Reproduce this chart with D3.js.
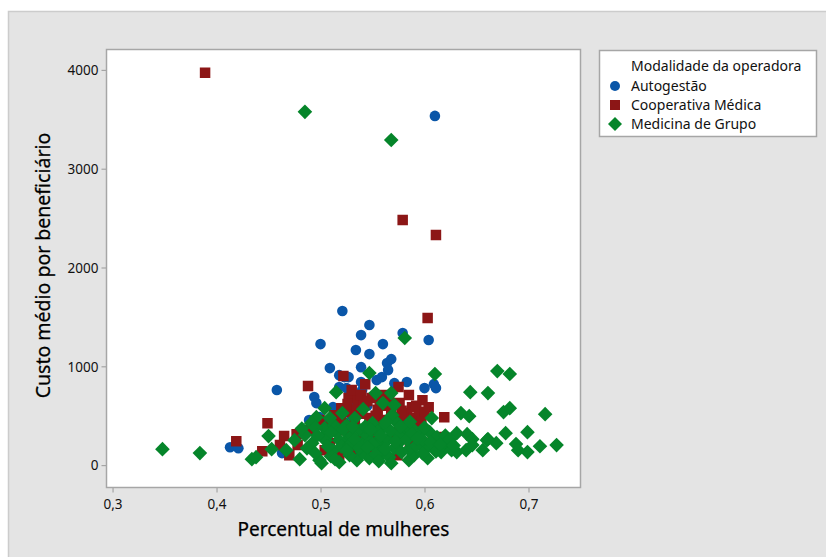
<!DOCTYPE html>
<html>
<head>
<meta charset="utf-8">
<script src="https://cdn.jsdelivr.net/npm/d3@7"></script>
<style>
  html, body { margin: 0; padding: 0; background: #ffffff; }
  svg { display: block; font-family: "Noto Sans", "Open Sans", sans-serif; }
</style>
</head>
<body>
<svg id="chart" width="826" height="557"></svg>
<script>
// Percentual de mulheres (x) vs custo médio por beneficiário (y), by modality
const seriesNames = ["Autogestão", "Cooperativa Médica", "Medicina de Grupo"];
const seriesColors = ["#0a56a8", "#8c1616", "#05852a"];

const autogestao = [
  [0.610, 3534], [0.521, 1560], [0.547, 1418], [0.539, 1316], [0.500, 1225],
  [0.579, 1337], [0.604, 1266], [0.560, 1225], [0.534, 1165], [0.547, 1124],
  [0.509, 982], [0.539, 992], [0.564, 1033], [0.568, 1073], [0.565, 962],
  [0.518, 911], [0.523, 891], [0.527, 891], [0.518, 790], [0.525, 780],
  [0.539, 841], [0.540, 760], [0.554, 861], [0.559, 891], [0.571, 830],
  [0.583, 841], [0.600, 780], [0.609, 820], [0.611, 780], [0.458, 760],
  [0.494, 689], [0.496, 628], [0.489, 456], [0.512, 587], [0.499, 486],
  [0.413, 182], [0.421, 172], [0.463, 122], [0.518, 557], [0.533, 658],
  [0.545, 600], [0.505, 420], [0.530, 470]
];

const cooperativa = [
  [0.389, 3970], [0.579, 2481], [0.611, 2329], [0.603, 1489], [0.522, 901],
  [0.543, 820], [0.488, 800], [0.575, 790], [0.527, 679], [0.536, 658],
  [0.598, 658], [0.604, 587], [0.619, 486], [0.449, 425], [0.419, 243],
  [0.465, 294], [0.477, 314], [0.444, 142], [0.520, 577], [0.557, 628],
  [0.533, 122], [0.509, 223], [0.560, 709], [0.576, 628], [0.588, 587],
  [0.583, 527], [0.595, 527], [0.574, 486], [0.608, 253], [0.614, 284],
  [0.574, 101], [0.499, 456], [0.513, 506], [0.528, 537], [0.542, 608],
  [0.549, 679], [0.566, 658], [0.533, 405], [0.547, 476], [0.562, 456],
  [0.523, 354], [0.552, 304], [0.489, 354], [0.478, 203], [0.538, 253],
  [0.571, 334], [0.590, 405], [0.504, 152], [0.518, 101], [0.547, 152],
  [0.586, 203], [0.470, 101], [0.530, 760], [0.539, 709], [0.585, 709],
  [0.461, 203], [0.555, 560], [0.568, 560], [0.580, 470], [0.592, 600],
  [0.540, 520], [0.515, 420], [0.557, 380], [0.600, 540], [0.526, 620],
  [0.545, 650], [0.553, 500], [0.565, 600], [0.578, 550], [0.590, 480],
  [0.535, 560], [0.520, 470], [0.506, 390], [0.552, 420], [0.597, 440]
];

const medicinaGrupo = [
  [0.485, 3575], [0.568, 3291], [0.581, 1286], [0.547, 932], [0.610, 922],
  [0.670, 952], [0.682, 922], [0.644, 739], [0.661, 729], [0.515, 739],
  [0.553, 729], [0.568, 729], [0.541, 567], [0.521, 527], [0.635, 527],
  [0.643, 496], [0.676, 537], [0.682, 577], [0.716, 516], [0.607, 476],
  [0.450, 294], [0.453, 162], [0.434, 61], [0.438, 81], [0.480, 61],
  [0.501, 20], [0.348, 162], [0.384, 122], [0.631, 324], [0.641, 314],
  [0.646, 263], [0.661, 263], [0.669, 223], [0.678, 324], [0.699, 334],
  [0.688, 213], [0.690, 152], [0.699, 132], [0.711, 192], [0.727, 203],
  [0.619, 182], [0.616, 132], [0.631, 132], [0.640, 152], [0.585, 51],
  [0.603, 71], [0.504, 577], [0.496, 486], [0.491, 425], [0.485, 304],
  [0.504, 375], [0.513, 405], [0.525, 405], [0.538, 354], [0.550, 425],
  [0.560, 385], [0.467, 152], [0.499, 51], [0.512, 152], [0.525, 253],
  [0.540, 223], [0.554, 182], [0.535, 51], [0.547, 71], [0.560, 122],
  [0.502, 284], [0.518, 253], [0.492, 223], [0.560, 628], [0.569, 506],
  [0.574, 425], [0.588, 375], [0.605, 334], [0.660, 253], [0.619, 233],
  [0.626, 152], [0.646, 203], [0.656, 152], [0.595, 223], [0.603, 182],
  [0.566, 81], [0.568, 20], [0.560, 203], [0.576, 233], [0.612, 284],
  [0.475, 253], [0.509, 476], [0.533, 476], [0.571, 608], [0.581, 354],
  [0.528, 101], [0.518, 30], [0.571, 172], [0.590, 101], [0.545, 300],
  [0.530, 300], [0.515, 330], [0.557, 270], [0.580, 280], [0.595, 310],
  [0.520, 190], [0.548, 240], [0.585, 160], [0.598, 120], [0.510, 90],
  [0.540, 130], [0.575, 300], [0.555, 340], [0.565, 260], [0.620, 300],
  [0.495, 380], [0.505, 250], [0.510, 330], [0.522, 360], [0.528, 200],
  [0.533, 260], [0.537, 170], [0.543, 390], [0.550, 210], [0.553, 110],
  [0.558, 300], [0.562, 160], [0.567, 350], [0.572, 240], [0.578, 130],
  [0.583, 260], [0.588, 320], [0.592, 200], [0.598, 260], [0.606, 230],
  [0.611, 140], [0.487, 170], [0.495, 120], [0.507, 190], [0.514, 60],
  [0.525, 150], [0.531, 390], [0.548, 360], [0.563, 440], [0.577, 390],
  [0.586, 440], [0.482, 370], [0.497, 300], [0.545, 180], [0.556, 40],
  [0.593, 270], [0.600, 380], [0.615, 210], [0.624, 260], [0.628, 200]
];

const xTicks = [0.3, 0.4, 0.5, 0.6, 0.7];
const yTicks = [0, 1000, 2000, 3000, 4000];

const svg = d3.select("#chart");
const W = 826, H = 557;
const plot = { left: 106.5, top: 49.5, right: 580.5, bottom: 487.5 };

// figure panel
svg.append("rect").attr("x", 8.5).attr("y", 11.5).attr("width", W).attr("height", H)
  .attr("fill", "#e4e4e4").attr("stroke", "#cccccc").attr("stroke-width", 1.5);

// data region
svg.append("rect")
  .attr("x", plot.left).attr("y", plot.top)
  .attr("width", plot.right - plot.left).attr("height", plot.bottom - plot.top)
  .attr("fill", "#ffffff");

const x = d3.scaleLinear().domain([0.2942, 0.7500]).range([plot.left, plot.right]);
const y = d3.scaleLinear().domain([-226, 4206]).range([plot.bottom, plot.top]);

const fmtX = v => d3.format(".1f")(v).replace(".", ",");

const xAxis = svg.append("g")
  .attr("transform", `translate(0,${plot.bottom})`)
  .call(d3.axisBottom(x).tickValues(xTicks).tickFormat(fmtX).tickSize(5).tickSizeOuter(0));
const yAxis = svg.append("g")
  .attr("transform", `translate(${plot.left},0)`)
  .call(d3.axisLeft(y).tickValues(yTicks).tickFormat(d3.format("d")).tickSize(5).tickSizeOuter(0));

[xAxis, yAxis].forEach(g => {
  g.select(".domain").remove();
  g.selectAll(".tick line").attr("stroke", "#999999").attr("stroke-width", 1);
  g.selectAll(".tick text").attr("fill", "#111111").attr("font-size", 13.5)
    .attr("font-family", "'Noto Sans', sans-serif");
});
xAxis.selectAll(".tick text").attr("dy", "1.1em").attr("y", 7);
yAxis.selectAll(".tick text").attr("x", -8).attr("dy", "0.35em");

// markers
const symCircle = d3.symbol().type(d3.symbolCircle).size(Math.PI * 5.3 * 5.3);
const symSquare = d3.symbol().type(d3.symbolSquare).size(10.5 * 10.5);
const diamondPath = "M0,-7.3L7.3,0L0,7.3L-7.3,0Z";

svg.append("clipPath").attr("id", "plotclip").append("rect")
  .attr("x", plot.left).attr("y", plot.top)
  .attr("width", plot.right - plot.left).attr("height", plot.bottom - plot.top);

const marks = svg.append("g").attr("clip-path", "url(#plotclip)");

marks.append("g").selectAll("path").data(autogestao).join("path")
  .attr("d", symCircle())
  .attr("transform", d => `translate(${x(d[0])},${y(d[1])})`)
  .attr("fill", seriesColors[0]);

marks.append("g").selectAll("path").data(cooperativa).join("path")
  .attr("d", symSquare())
  .attr("transform", d => `translate(${x(d[0])},${y(d[1])})`)
  .attr("fill", seriesColors[1]);

marks.append("g").selectAll("path").data(medicinaGrupo).join("path")
  .attr("d", diamondPath)
  .attr("transform", d => `translate(${x(d[0])},${y(d[1])})`)
  .attr("fill", seriesColors[2]);

// frame on top
svg.append("rect")
  .attr("x", plot.left).attr("y", plot.top)
  .attr("width", plot.right - plot.left).attr("height", plot.bottom - plot.top)
  .attr("fill", "none").attr("stroke", "#a6a6a6").attr("stroke-width", 1.5);

// axis titles
svg.append("text")
  .attr("x", (plot.left + plot.right) / 2).attr("y", 536)
  .attr("text-anchor", "middle").attr("font-size", 19).attr("fill", "#000")
  .attr("stroke", "#000").attr("stroke-width", 0.25)
  .text("Percentual de mulheres");

svg.append("text")
  .attr("transform", `translate(50,${(plot.top + plot.bottom) / 2 - 3}) rotate(-90)`)
  .attr("text-anchor", "middle").attr("font-size", 19.5).attr("fill", "#000")
  .attr("stroke", "#000").attr("stroke-width", 0.25)
  .text("Custo médio por beneficiário");

// legend
const lg = svg.append("g");
lg.append("rect").attr("x", 599.5).attr("y", 50.5).attr("width", 217).attr("height", 86)
  .attr("fill", "#ffffff").attr("stroke", "#a6a6a6").attr("stroke-width", 1.5);
lg.append("text").attr("x", 631).attr("y", 71).attr("font-size", 14).attr("fill", "#111")
  .text("Modalidade da operadora");

const legendRows = [
  { name: seriesNames[0], color: seriesColors[0], shape: "circle", cy: 86 },
  { name: seriesNames[1], color: seriesColors[1], shape: "square", cy: 105 },
  { name: seriesNames[2], color: seriesColors[2], shape: "diamond", cy: 124 }
];
legendRows.forEach(r => {
  const p = lg.append("path")
    .attr("transform", `translate(615,${r.cy})`)
    .attr("fill", r.color);
  if (r.shape === "circle") p.attr("d", d3.symbol().type(d3.symbolCircle).size(Math.PI * 5 * 5)());
  else if (r.shape === "square") p.attr("d", d3.symbol().type(d3.symbolSquare).size(10 * 10)());
  else p.attr("d", "M0,-7L7,0L0,7L-7,0Z");
  lg.append("text").attr("x", 631).attr("y", r.cy + 5).attr("font-size", 14).attr("fill", "#111")
    .text(r.name);
});
</script>
</body>
</html>
